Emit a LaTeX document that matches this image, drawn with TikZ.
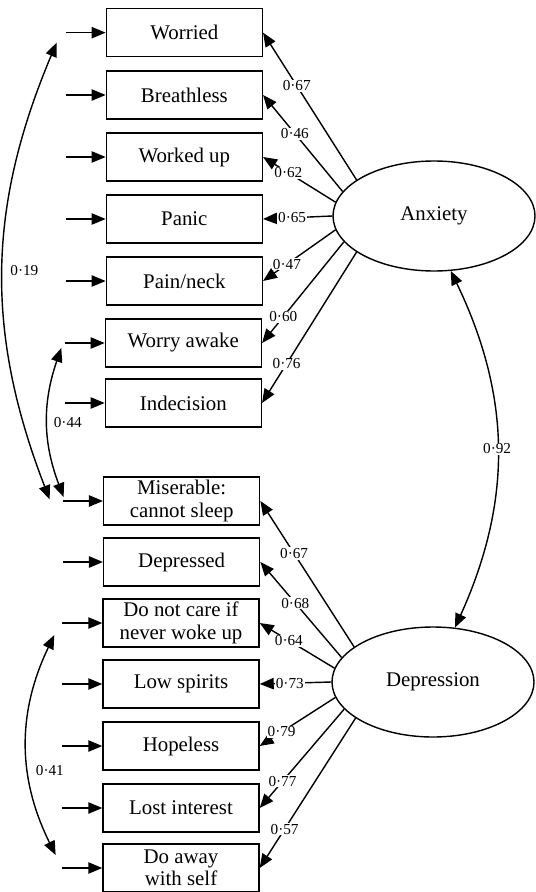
\documentclass[tikz,border=0pt]{standalone}
\usepackage{fontspec}
\setmainfont{Liberation Serif}
\usetikzlibrary{arrows.meta, calc, shapes.geometric}

\begin{document}
\begin{tikzpicture}[>={Triangle[length=4.2mm, width=3.4mm]}, line width=1.2pt,
  every node/.style={font=\fontsize{17.8}{19}\selectfont},
  item/.style={draw, align=center, minimum width=4.68cm, minimum height=1.44cm, inner sep=1pt},
  factor/.style={draw, ellipse, minimum width=6.06cm, minimum height=3.3cm, inner sep=0pt},
  coef/.style={font=\fontsize{13}{15}\selectfont, fill=white, inner sep=0.8pt}]
  \useasboundingbox (0,0) rectangle (16.05,-26.76);
  \node[item] (worried) at (5.53,-0.98) {Worried};
  \node[item] (breathless) at (5.53,-2.85) {Breathless};
  \node[item] (workedup) at (5.53,-4.71) {Worked up};
  \node[item] (panic) at (5.53,-6.57) {Panic};
  \node[item] (painneck) at (5.53,-8.43) {Pain/neck};
  \node[item] (worryawake) at (5.50,-10.29) {Worry awake};
  \node[item] (indecision) at (5.50,-12.09) {Indecision};
  \node[item] (miserable) at (5.45,-15.03) {Miserable:\\cannot sleep};
  \node[item] (depressed) at (5.45,-16.86) {Depressed};
  \node[item] (donotcare) at (5.43,-18.69) {Do not care if\\never woke up};
  \node[item] (lowspirits) at (5.43,-20.52) {Low spirits};
  \node[item] (hopeless) at (5.43,-22.38) {Hopeless};
  \node[item] (lostinterest) at (5.43,-24.24) {Lost interest};
  \node[item] (doaway) at (5.43,-26.04) {Do away\\with self};
  \node[factor] (anx) at (13.02,-6.48) {Anxiety};
  \node[factor] (dep) at (12.99,-20.46) {Depression};
  \coordinate (eworried) at ($(worried.west)+(-1.2,0)$);
  \coordinate (ebreathless) at ($(breathless.west)+(-1.2,0)$);
  \coordinate (eworkedup) at ($(workedup.west)+(-1.2,0)$);
  \coordinate (epanic) at ($(panic.west)+(-1.2,0)$);
  \coordinate (epainneck) at ($(painneck.west)+(-1.2,0)$);
  \coordinate (eworryawake) at ($(worryawake.west)+(-1.2,0)$);
  \coordinate (eindecision) at ($(indecision.west)+(-1.2,0)$);
  \coordinate (emiserable) at ($(miserable.west)+(-1.2,0)$);
  \coordinate (edepressed) at ($(depressed.west)+(-1.2,0)$);
  \coordinate (edonotcare) at ($(donotcare.west)+(-1.2,0)$);
  \coordinate (elowspirits) at ($(lowspirits.west)+(-1.2,0)$);
  \coordinate (ehopeless) at ($(hopeless.west)+(-1.2,0)$);
  \coordinate (elostinterest) at ($(lostinterest.west)+(-1.2,0)$);
  \coordinate (edoaway) at ($(doaway.west)+(-1.2,0)$);
  \draw[->] (eworried) -- (worried.west);
  \draw[->] (ebreathless) -- (breathless.west);
  \draw[->] (eworkedup) -- (workedup.west);
  \draw[->] (epanic) -- (panic.west);
  \draw[->] (epainneck) -- (painneck.west);
  \draw[->] (eworryawake) -- (worryawake.west);
  \draw[->] (eindecision) -- (indecision.west);
  \draw[->] (emiserable) -- (miserable.west);
  \draw[->] (edepressed) -- (depressed.west);
  \draw[->] (edonotcare) -- (donotcare.west);
  \draw[->] (elowspirits) -- (lowspirits.west);
  \draw[->] (ehopeless) -- (hopeless.west);
  \draw[->] (elostinterest) -- (lostinterest.west);
  \draw[->] (edoaway) -- (doaway.west);
  \draw[->] (anx.155) -- node[coef, pos=0.64] {0·67} (worried.east);
  \draw[->] (anx.165) -- node[coef, pos=0.60] {0·46} (breathless.east);
  \draw[->] (anx.172) -- node[coef, pos=0.65] {0·62} (workedup.east);
  \draw[->] (anx.180) -- node[coef, pos=0.58] {0·65} (panic.east);
  \draw[->] (anx.188) -- node[coef, pos=0.67] {0·47} (painneck.east);
  \draw[->] (anx.196) -- node[coef, pos=0.74] {0·60} (worryawake.east);
  \draw[->] (anx.205) -- node[coef, pos=0.74] {0·76} (indecision.east);
  \draw[->] (dep.156) -- node[coef, pos=0.64] {0·67} (miserable.east);
  \draw[->] (dep.165) -- node[coef, pos=0.57] {0·68} (depressed.east);
  \draw[->] (dep.172) -- node[coef, pos=0.61] {0·64} (donotcare.east);
  \draw[->] (dep.180) -- node[coef, pos=0.58] {0·73} (lowspirits.east);
  \draw[->] (dep.189) -- node[coef, pos=0.71] {0·79} (hopeless.east);
  \draw[->] (dep.197) -- node[coef, pos=0.73] {0·77} (lostinterest.east);
  \draw[->] (dep.205) -- node[coef, pos=0.74] {0·57} (doaway.east);
  \draw[<->] ([shift={(-0.27,-0.3)}]eworried) to[bend right=22] node[coef, right=5pt] {0·19} ([shift={(-0.4,0.05)}]emiserable);
  \draw[<->] ([shift={(-0.1,-0.15)}]eworryawake) to[bend right=20] node[coef, right=4pt] {0·44} ([shift={(0.02,0.12)}]emiserable);
  \draw[<->] ([shift={(-0.24,-0.36)}]edonotcare) to[bend right=26] node[coef, pos=0.62, right=5pt] {0·41} ([shift={(-0.2,0.39)}]edoaway);
  \draw[<->] (anx.-73) to[bend left=25] node[coef] {0·92} (dep.68);
\end{tikzpicture}
\end{document}
